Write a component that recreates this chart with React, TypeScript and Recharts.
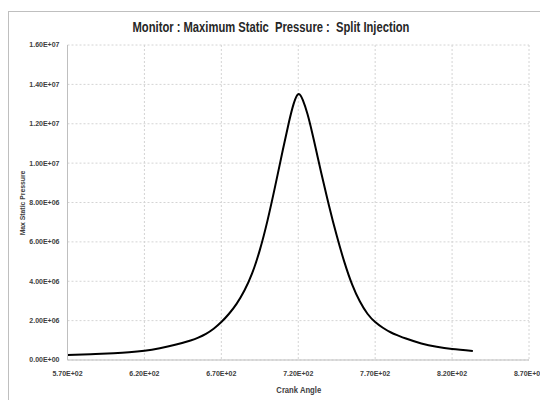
import React from 'react';
import { LineChart, Line, XAxis, YAxis, CartesianGrid } from 'recharts';

const crankAngles = [
  570, 585, 600, 610, 620, 630, 640, 650, 655, 660, 665, 670, 675, 680, 685, 690, 695, 700,
  705, 710, 714, 717, 720, 723, 726, 729, 732, 735, 740, 745, 750, 755,
  760, 765, 770, 775, 780, 785, 790, 800, 810, 820, 833.5,
];
const maxStaticPressure = [
  0.255e6, 0.29e6, 0.345e6, 0.395e6, 0.475e6, 0.6e6, 0.77e6, 0.99e6, 1.135e6, 1.33e6, 1.59e6, 1.93e6, 2.35e6, 2.865e6, 3.53e6, 4.4e6, 5.58e6, 7.08e6,
  8.83e6, 10.68e6, 12.1e6, 13.01e6, 13.5e6, 13.2e6, 12.49e6, 11.56e6, 10.53e6, 9.49e6, 7.84e6, 6.32e6, 4.97e6, 3.84e6,
  2.98e6, 2.35e6, 1.93e6, 1.64e6, 1.41e6, 1.24e6, 1.09e6, 0.84e6, 0.67e6, 0.56e6, 0.46e6,
];
const xTicks = [570, 620, 670, 720, 770, 820, 870];
const yTicks = [0, 2e6, 4e6, 6e6, 8e6, 10e6, 12e6, 14e6, 16e6];

const chartTitle = 'Monitor : Maximum Static  Pressure :  Split Injection';
const xTitle = 'Crank Angle';
const yTitle = 'Max Static Pressure';

const data = crankAngles.map((a, i) => ({ angle: a, pressure: maxStaticPressure[i] }));

const sci = (v: number) => {
  const [m, e] = v.toExponential(2).split('e');
  const sign = e.startsWith('-') ? '-' : '+';
  const digits = e.replace(/[+-]/, '').padStart(2, '0');
  return `${m}E${sign}${digits}`;
};

const FONT = '"Liberation Sans", Arial, sans-serif';
const AXIS = '#bfbfbf';
const GRID = '#d4d4d4';

export default function App() {
  return (
    <div style={{ position: 'absolute', left: 0, top: 0, width: 540, height: 400, overflow: 'hidden', background: '#fff' }}>
      <div style={{ position: 'absolute', left: 8, top: 11, width: 700, height: 600, borderLeft: `1px solid ${AXIS}`, borderTop: `1px solid ${AXIS}` }} />
      <div style={{ position: 'absolute', left: 0, top: 0 }}>
        <LineChart width={540} height={400} data={data} margin={{ top: 45, right: 11, bottom: 10, left: 7.5 }}>
          <CartesianGrid stroke={GRID} strokeDasharray="2 2" />
          <XAxis
            dataKey="angle"
            type="number"
            domain={[570, 870]}
            ticks={xTicks}
            tickFormatter={sci}
            height={30}
            stroke={AXIS}
            tickLine={false}
            tickMargin={5}
            tick={{ fontSize: 7, fill: '#404040', fontFamily: FONT, fontWeight: 'bold' }}
            interval={0}
            allowDataOverflow
          />
          <XAxis xAxisId="top" orientation="top" type="number" domain={[570, 870]} height={0} tick={false} tickLine={false} stroke={AXIS} />
          <YAxis
            type="number"
            domain={[0, 16e6]}
            ticks={yTicks}
            tickFormatter={sci}
            width={60}
            stroke={AXIS}
            tickLine={false}
            tick={{ fontSize: 7, fill: '#404040', fontFamily: FONT, fontWeight: 'bold' }}
            interval={0}
          />
          <YAxis yAxisId="right" orientation="right" type="number" domain={[0, 16e6]} width={0} tick={false} tickLine={false} stroke={AXIS} />
          <Line
            type="natural"
            dataKey="pressure"
            stroke="#000"
            strokeWidth={2}
            dot={false}
            isAnimationActive={false}
          />
        </LineChart>
      </div>
      <div style={{ position: 'absolute', left: 0, width: 542, top: 17, textAlign: 'center', fontFamily: FONT, fontWeight: 'bold', fontSize: 14, color: '#262626', whiteSpace: 'pre', lineHeight: '20px', transform: 'scaleX(0.8)', transformOrigin: '271px 0' }}>
        {chartTitle}
      </div>
      <div style={{ position: 'absolute', left: 67.5, width: 461.5, top: 383, textAlign: 'center', fontFamily: FONT, fontWeight: 'bold', fontSize: 9, color: '#404040', lineHeight: '14px', transform: 'scaleX(0.85)' }}>
        {xTitle}
      </div>
      <div style={{ position: 'absolute', left: 22.5, top: 202.5, width: 0, height: 0 }}>
        <div style={{ position: 'absolute', left: -100, top: -7, width: 200, textAlign: 'center', transform: 'rotate(-90deg) scaleX(0.85)', fontFamily: FONT, fontWeight: 'bold', fontSize: 8, color: '#404040', lineHeight: '14px' }}>
          {yTitle}
        </div>
      </div>
    </div>
  );
}
